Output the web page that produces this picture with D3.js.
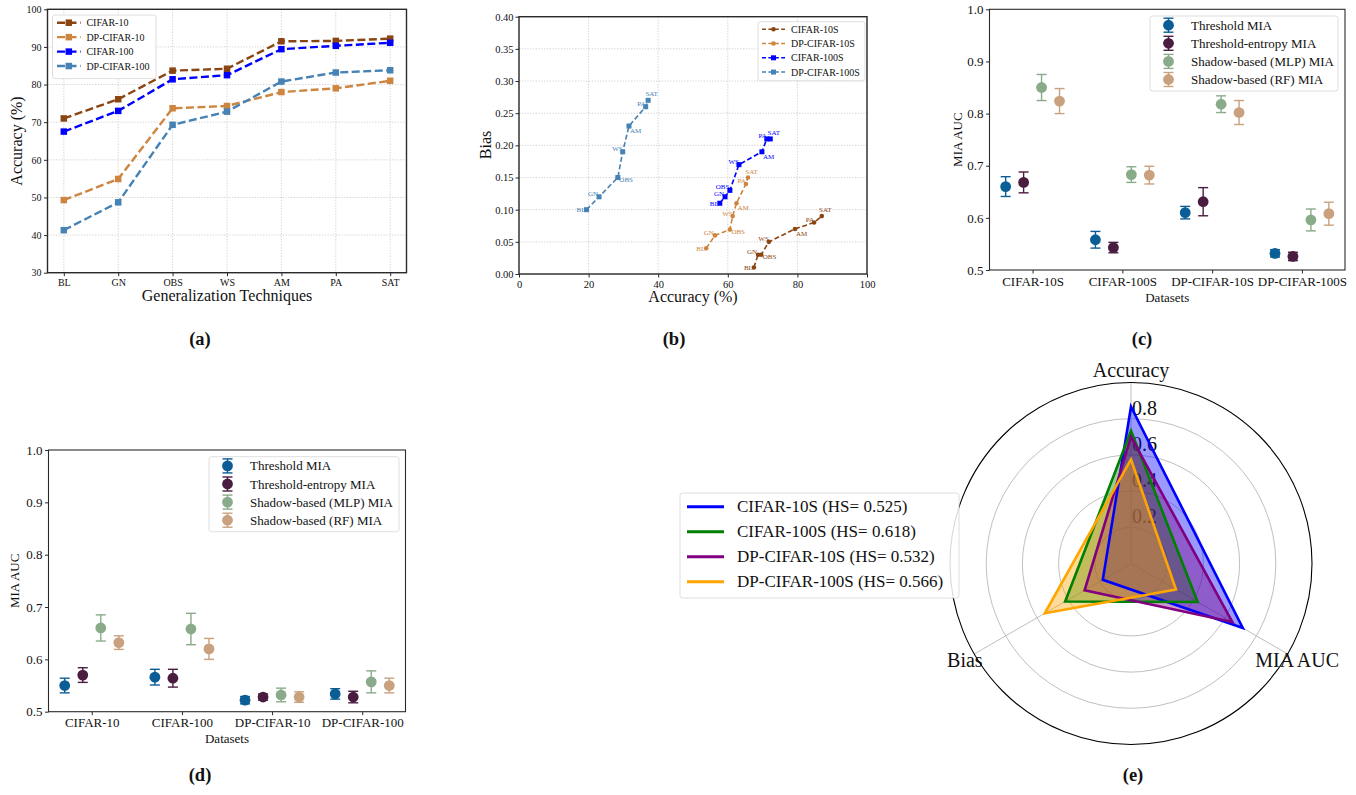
<!DOCTYPE html>
<html>
<head>
<meta charset="utf-8">
<script src="https://cdn.jsdelivr.net/npm/d3@7"></script>
<style>
  body { margin: 0; background: #fff; }
  svg { font-family: "Liberation Serif", "Times New Roman", serif; }
</style>
</head>
<body>
<svg id="fig" width="1356" height="795"></svg>
<script>
// ---- (a) accuracy per technique ----
var techniques = ["BL", "GN", "OBS", "WS", "AM", "PA", "SAT"];
var accTicks = [30, 40, 50, 60, 70, 80, 90, 100];
var accCifar10 = [71.0, 76.1, 83.7, 84.2, 91.5, 91.6, 92.2];
var accDpCifar10 = [49.3, 54.9, 73.7, 74.3, 78.0, 79.0, 81.0];
var accCifar100 = [67.5, 73.0, 81.4, 82.5, 89.4, 90.3, 91.1];
var accDpCifar100 = [41.3, 48.7, 69.3, 72.8, 80.8, 83.2, 83.8];

// ---- (b) accuracy vs bias ----
var scatterAccTicks = [0, 20, 40, 60, 80, 100];
var biasTicks = [0, 0.05, 0.10, 0.15, 0.20, 0.25, 0.30, 0.35, 0.40];
var sAcc10 = [67.5, 68.7, 69.6, 71.8, 79.3, 84.8, 87.0];
var sBias10 = [0.010, 0.030, 0.030, 0.050, 0.070, 0.080, 0.090];
var sAccDp10 = [53.8, 56.3, 60.6, 61.4, 62.5, 65.2, 65.8];
var sBiasDp10 = [0.040, 0.060, 0.069, 0.090, 0.110, 0.140, 0.150];
var sAcc100 = [57.7, 59.2, 60.6, 63.2, 69.8, 71.2, 72.2];
var sBias100 = [0.110, 0.120, 0.130, 0.170, 0.190, 0.210, 0.210];
var sAccDp100 = [19.4, 23.0, 28.4, 29.8, 31.6, 36.4, 37.1];
var sBiasDp100 = [0.100, 0.120, 0.150, 0.190, 0.230, 0.260, 0.270];

// ---- (c) / (d) MIA AUC ----
var attackNames = ["Threshold MIA", "Threshold-entropy MIA", "Shadow-based (MLP) MIA", "Shadow-based (RF) MIA"];
var aucTicks = [0.5, 0.6, 0.7, 0.8, 0.9, 1.0];
var datasetsS = ["CIFAR-10S", "CIFAR-100S", "DP-CIFAR-10S", "DP-CIFAR-100S"];
var cThr = [0.660, 0.558, 0.610, 0.532], cThrErr = [0.019, 0.016, 0.012, 0.007];
var cEnt = [0.668, 0.543, 0.631, 0.526], cEntErr = [0.020, 0.010, 0.027, 0.008];
var cMlp = [0.850, 0.683, 0.818, 0.596], cMlpErr = [0.025, 0.015, 0.016, 0.021];
var cRf = [0.824, 0.682, 0.802, 0.608], cRfErr = [0.024, 0.017, 0.023, 0.022];
var datasets = ["CIFAR-10", "CIFAR-100", "DP-CIFAR-10", "DP-CIFAR-100"];
var dThr = [0.550, 0.566, 0.522, 0.534], dThrErr = [0.014, 0.015, 0.007, 0.010];
var dEnt = [0.570, 0.564, 0.528, 0.528], dEntErr = [0.014, 0.017, 0.006, 0.011];
var dMlp = [0.660, 0.658, 0.532, 0.557], dMlpErr = [0.025, 0.030, 0.013, 0.021];
var dRf = [0.632, 0.620, 0.528, 0.550], dRfErr = [0.013, 0.020, 0.010, 0.014];

// ---- (e) radar ----
var radarAxes = ["Accuracy", "MIA AUC", "Bias"];
var radarTicks = [0.2, 0.4, 0.6, 0.8];
var radarLabels = ["CIFAR-10S (HS= 0.525)", "CIFAR-100S (HS= 0.618)", "DP-CIFAR-10S (HS= 0.532)", "DP-CIFAR-100S (HS= 0.566)"];
var radarCifar10 = [0.866, 0.713, 0.180];
var radarCifar100 = [0.733, 0.425, 0.420];
var radarDpCifar10 = [0.700, 0.646, 0.296];
var radarDpCifar100 = [0.575, 0.287, 0.550];

var SERIF = '"Liberation Serif", "Times New Roman", serif';
var svg = d3.select('#fig');
svg.append('rect').attr('width', 1356).attr('height', 795).attr('fill', '#fff');

// helpers
function frame(g, b, sw) {
  g.append('rect')
   .attr('x', b.left).attr('y', b.top)
   .attr('width', b.right - b.left).attr('height', b.bottom - b.top)
   .attr('fill', 'none').attr('stroke', '#2a2a2a').attr('stroke-width', sw);
}

function styleAxis(sel, size) {
  sel.attr('font-family', SERIF).attr('font-size', size);
  sel.select('.domain').remove();
  sel.selectAll('.tick line').attr('stroke', '#2a2a2a');
  sel.selectAll('.tick text').attr('fill', '#111');
}

function grid(g, b, xs, ys) {
  var gg = g.append('g').attr('stroke', '#c4c4c4').attr('stroke-width', 0.8).attr('stroke-dasharray', '1.2,1.6');
  xs.forEach(function(v) { gg.append('line').attr('x1', v).attr('x2', v).attr('y1', b.top).attr('y2', b.bottom); });
  ys.forEach(function(v) { gg.append('line').attr('y1', v).attr('y2', v).attr('x1', b.left).attr('x2', b.right); });
}

function legendBox(g, x, y, w, h) {
  g.append('rect').attr('x', x).attr('y', y).attr('width', w).attr('height', h)
   .attr('rx', 2.5).attr('fill', '#fff').attr('fill-opacity', 0.85)
   .attr('stroke', '#d6d6d6').attr('stroke-width', 0.8);
}

function marker(g, shape, cx, cy, size, color) {
  if (shape === 'square') {
    g.append('rect').attr('x', cx - size / 2).attr('y', cy - size / 2)
     .attr('width', size).attr('height', size).attr('fill', color);
  } else {
    g.append('circle').attr('cx', cx).attr('cy', cy).attr('r', size / 2).attr('fill', color);
  }
}

function panelLabel(text, x, y) {
  svg.append('text').attr('x', x).attr('y', y).attr('text-anchor', 'middle')
     .attr('font-size', 18.5).attr('font-weight', 'bold').attr('fill', '#111').text(text);
}

// ---------------- (a) ----------------
(function() {
  var b = {left: 47.5, right: 406.5, top: 9.3, bottom: 272.7};
  var x = d3.scaleLinear().domain([-0.3, techniques.length - 0.7]).range([b.left, b.right]);
  var y = d3.scaleLinear().domain([30, 100]).range([b.bottom, b.top]);
  var g = svg.append('g');

  grid(g, b, techniques.map(function(d, i) { return x(i); }), accTicks.map(y));

  var series = [
    {name: 'CIFAR-10', values: accCifar10, color: '#8B4513'},
    {name: 'DP-CIFAR-10', values: accDpCifar10, color: '#CD853F'},
    {name: 'CIFAR-100', values: accCifar100, color: '#0000FF'},
    {name: 'DP-CIFAR-100', values: accDpCifar100, color: '#4682B4'}
  ];
  var line = d3.line().x(function(d, i) { return x(i); }).y(function(d) { return y(d); });

  series.forEach(function(s) {
    g.append('path').attr('d', line(s.values)).attr('fill', 'none')
     .attr('stroke', s.color).attr('stroke-width', 2.4).attr('stroke-dasharray', '8,3.5');
    s.values.forEach(function(v, i) { marker(g, 'square', x(i), y(v), 6.5, s.color); });
  });

  frame(g, b, 1.4);

  var xa = g.append('g').attr('transform', 'translate(0,' + b.bottom + ')')
    .call(d3.axisBottom(x).tickValues(d3.range(techniques.length))
      .tickFormat(function(i) { return techniques[i]; }).tickSize(3.5).tickPadding(3));
  styleAxis(xa, 10);
  var ya = g.append('g').attr('transform', 'translate(' + b.left + ',0)')
    .call(d3.axisLeft(y).tickValues(accTicks).tickSize(3.5).tickPadding(2.5));
  styleAxis(ya, 10);

  g.append('text').attr('x', (b.left + b.right) / 2).attr('y', 301).attr('text-anchor', 'middle')
   .attr('font-size', 16).attr('fill', '#111').text('Generalization Techniques');
  g.append('text').attr('transform', 'translate(16,141) rotate(-90)').attr('text-anchor', 'middle')
   .attr('dominant-baseline', 'central').attr('font-size', 16).attr('fill', '#111').text('Accuracy (%)');

  legendBox(g, 52.5, 15, 103.5, 63.6);
  series.forEach(function(s, i) {
    var ly = 22.7 + i * 14.45;
    g.append('line').attr('x1', 57).attr('x2', 80.6).attr('y1', ly).attr('y2', ly)
     .attr('stroke', s.color).attr('stroke-width', 2.4).attr('stroke-dasharray', '8,3.5');
    marker(g, 'square', 68.8, ly, 6.5, s.color);
    g.append('text').attr('x', 86.4).attr('y', ly).attr('dominant-baseline', 'central')
     .attr('font-size', 10).attr('fill', '#111').text(s.name);
  });
})();

// ---------------- (b) ----------------
(function() {
  var b = {left: 519, right: 867, top: 16.7, bottom: 274};
  var x = d3.scaleLinear().domain([0, 100]).range([b.left, b.right]);
  var y = d3.scaleLinear().domain([0, 0.40]).range([b.bottom, b.top]);
  var g = svg.append('g');

  grid(g, b, scatterAccTicks.map(x), biasTicks.map(y));

  var series = [
    {name: 'CIFAR-10S', acc: sAcc10, bias: sBias10, color: '#8B4513', shape: 'circle'},
    {name: 'DP-CIFAR-10S', acc: sAccDp10, bias: sBiasDp10, color: '#CD853F', shape: 'circle'},
    {name: 'CIFAR-100S', acc: sAcc100, bias: sBias100, color: '#0000FF', shape: 'square'},
    {name: 'DP-CIFAR-100S', acc: sAccDp100, bias: sBiasDp100, color: '#4682B4', shape: 'square'}
  ];
  // label placement around each point, by technique
  var place = {
    BL: {anchor: 'end', dx: -1, dy: 0.5},
    GN: {anchor: 'end', dx: -1, dy: -2.5},
    OBS: {anchor: 'start', dx: 1.5, dy: 2.5},
    WS: {anchor: 'end', dx: 0, dy: -2.5},
    AM: {anchor: 'start', dx: 1, dy: 5},
    PA: {anchor: 'end', dx: 0, dy: -2.5},
    SAT: {anchor: 'middle', dx: 3.5, dy: -6}
  };
  var placeBlueObs = {anchor: 'end', dx: -0.5, dy: -3.5};

  series.forEach(function(s) {
    var pts = s.acc.map(function(a, i) { return [x(a), y(s.bias[i])]; });
    g.append('path').attr('d', d3.line()(pts)).attr('fill', 'none')
     .attr('stroke', s.color).attr('stroke-width', 1.6).attr('stroke-dasharray', '5,2.6');
    pts.forEach(function(p, i) {
      marker(g, s.shape, p[0], p[1], s.shape === 'square' ? 5 : 4.6, s.color);
      var t = techniques[i];
      var pl = (s.name === 'CIFAR-100S' && t === 'OBS') ? placeBlueObs : place[t];
      g.append('text').attr('x', p[0] + pl.dx).attr('y', p[1] + pl.dy)
       .attr('text-anchor', pl.anchor).attr('dominant-baseline', 'central')
       .attr('font-size', 7).attr('fill', s.color).text(t);
    });
  });

  frame(g, b, 1.4);

  var xa = g.append('g').attr('transform', 'translate(0,' + b.bottom + ')')
    .call(d3.axisBottom(x).tickValues(scatterAccTicks).tickSize(3.5).tickPadding(3));
  styleAxis(xa, 10.5);
  var ya = g.append('g').attr('transform', 'translate(' + b.left + ',0)')
    .call(d3.axisLeft(y).tickValues(biasTicks).tickFormat(d3.format('.2f')).tickSize(3.5).tickPadding(2));
  styleAxis(ya, 10.5);

  g.append('text').attr('x', (b.left + b.right) / 2).attr('y', 302).attr('text-anchor', 'middle')
   .attr('font-size', 16).attr('fill', '#111').text('Accuracy (%)');
  g.append('text').attr('transform', 'translate(485,145) rotate(-90)').attr('text-anchor', 'middle')
   .attr('dominant-baseline', 'central').attr('font-size', 16).attr('fill', '#111').text('Bias');

  legendBox(g, 758, 21.7, 107, 59);
  series.forEach(function(s, i) {
    var ly = 29.3 + i * 14.25;
    g.append('line').attr('x1', 762).attr('x2', 785).attr('y1', ly).attr('y2', ly)
     .attr('stroke', s.color).attr('stroke-width', 1.6).attr('stroke-dasharray', '4,2.4');
    marker(g, s.shape, 773.5, ly, s.shape === 'square' ? 5 : 4.6, s.color);
    g.append('text').attr('x', 791).attr('y', ly).attr('dominant-baseline', 'central')
     .attr('font-size', 10).attr('fill', '#111').text(s.name);
  });
})();

// ---------------- (c) and (d) ----------------
var attackColors = ['#0b5d96', '#4a1c40', '#8aab8a', '#c9a17f'];
var attackOffsets = [-0.3, -0.1, 0.1, 0.3];

function aucPanel(b, cats, vals, errs, leg, xLabelY, yLabelX) {
  var x = d3.scaleLinear().domain([-0.48, cats.length - 1 + 0.48]).range([b.left, b.right]);
  var y = d3.scaleLinear().domain([0.5, 1.0]).range([b.bottom, b.top]);
  var g = svg.append('g');

  vals.forEach(function(arr, k) {
    var col = attackColors[k];
    arr.forEach(function(v, i) {
      var cx = x(i + attackOffsets[k]);
      var e = errs[k][i];
      g.append('line').attr('x1', cx).attr('x2', cx).attr('y1', y(v - e)).attr('y2', y(v + e))
       .attr('stroke', col).attr('stroke-width', 1.4);
      [v - e, v + e].forEach(function(c) {
        g.append('line').attr('x1', cx - 5).attr('x2', cx + 5).attr('y1', y(c)).attr('y2', y(c))
         .attr('stroke', col).attr('stroke-width', 1.4);
      });
      g.append('circle').attr('cx', cx).attr('cy', y(v)).attr('r', 5.4).attr('fill', col);
    });
  });

  frame(g, b, 1.1);

  var xa = g.append('g').attr('transform', 'translate(0,' + b.bottom + ')')
    .call(d3.axisBottom(x).tickValues(d3.range(cats.length))
      .tickFormat(function(i) { return cats[i]; }).tickSize(3.5).tickPadding(3));
  styleAxis(xa, 13);
  var ya = g.append('g').attr('transform', 'translate(' + b.left + ',0)')
    .call(d3.axisLeft(y).tickValues(aucTicks).tickFormat(d3.format('.1f')).tickSize(3.5).tickPadding(2.5));
  styleAxis(ya, 13);

  g.append('text').attr('x', (b.left + b.right) / 2).attr('y', xLabelY).attr('text-anchor', 'middle')
   .attr('font-size', 13).attr('fill', '#111').text('Datasets');
  g.append('text').attr('transform', 'translate(' + yLabelX + ',' + ((b.top + b.bottom) / 2) + ') rotate(-90)')
   .attr('text-anchor', 'middle').attr('dominant-baseline', 'central')
   .attr('font-size', 13).attr('fill', '#111').text('MIA AUC');

  legendBox(g, leg.x, leg.y, leg.w, leg.h);
  attackNames.forEach(function(name, k) {
    var ly = leg.y + 9.2 + k * 18.1;
    var mx = leg.x + 18.5;
    var col = attackColors[k];
    g.append('line').attr('x1', mx).attr('x2', mx).attr('y1', ly - 7).attr('y2', ly + 7)
     .attr('stroke', col).attr('stroke-width', 1.4);
    [ly - 7, ly + 7].forEach(function(c) {
      g.append('line').attr('x1', mx - 5).attr('x2', mx + 5).attr('y1', c).attr('y2', c)
       .attr('stroke', col).attr('stroke-width', 1.4);
    });
    g.append('circle').attr('cx', mx).attr('cy', ly).attr('r', 5.4).attr('fill', col);
    g.append('text').attr('x', leg.x + 41).attr('y', ly).attr('dominant-baseline', 'central')
     .attr('font-size', 13).attr('fill', '#111').text(name);
  });
}

aucPanel({left: 989.5, right: 1345, top: 9.3, bottom: 270}, datasetsS,
  [cThr, cEnt, cMlp, cRf], [cThrErr, cEntErr, cMlpErr, cRfErr],
  {x: 1150, y: 16, w: 188, h: 75}, 302, 957);

aucPanel({left: 48.5, right: 405.5, top: 450, bottom: 711.7}, datasets,
  [dThr, dEnt, dMlp, dRf], [dThrErr, dEntErr, dMlpErr, dRfErr],
  {x: 209, y: 456.7, w: 190, h: 75}, 743, 14);

// ---------------- (e) radar ----------------
(function() {
  var cx = 1131, cy = 563.5;
  var r = d3.scaleLinear().domain([0, 1]).range([0, 181]);
  var g = svg.append('g').attr('transform', 'translate(' + cx + ',' + cy + ')');
  var step = 2 * Math.PI / radarAxes.length;

  radarTicks.forEach(function(t) {
    g.append('circle').attr('r', r(t)).attr('fill', 'none').attr('stroke', '#b8b8b8').attr('stroke-width', 0.9);
  });
  radarAxes.forEach(function(a, i) {
    var ang = i * step;
    g.append('line').attr('x1', 0).attr('y1', 0)
     .attr('x2', r(1) * Math.sin(ang)).attr('y2', -r(1) * Math.cos(ang))
     .attr('stroke', '#b8b8b8').attr('stroke-width', 0.9);
    g.append('text').attr('x', r(1.06) * Math.sin(ang)).attr('y', -r(1.07) * Math.cos(ang))
     .attr('text-anchor', 'middle').attr('dominant-baseline', 'central')
     .attr('font-size', 20).attr('fill', '#111').text(a);
  });
  radarTicks.forEach(function(t) {
    g.append('text').attr('x', 1).attr('y', -r(t) - 4)
     .attr('font-size', 20).attr('fill', '#111').text(t.toFixed(1));
  });
  g.append('circle').attr('r', r(1)).attr('fill', 'none').attr('stroke', '#000').attr('stroke-width', 1.1);

  var series = [
    {name: radarLabels[0], values: radarCifar10, color: '#0000FF'},
    {name: radarLabels[1], values: radarCifar100, color: '#008000'},
    {name: radarLabels[2], values: radarDpCifar10, color: '#800080'},
    {name: radarLabels[3], values: radarDpCifar100, color: '#FFA500'}
  ];
  var radial = d3.lineRadial()
    .angle(function(d, i) { return i * step; })
    .radius(function(d) { return r(d); })
    .curve(d3.curveLinearClosed);

  series.forEach(function(s) {
    g.append('path').attr('d', radial(s.values)).attr('fill', s.color).attr('fill-opacity', 0.4)
     .attr('stroke', 'none');
  });
  series.forEach(function(s) {
    g.append('path').attr('d', radial(s.values)).attr('fill', 'none')
     .attr('stroke', s.color).attr('stroke-width', 2.6).attr('stroke-linejoin', 'miter');
  });

  legendBox(svg, 680, 493, 279, 105);
  series.forEach(function(s, i) {
    var ly = 506.7 + i * 25;
    svg.append('line').attr('x1', 687).attr('x2', 724).attr('y1', ly).attr('y2', ly)
       .attr('stroke', s.color).attr('stroke-width', 3);
    svg.append('text').attr('x', 737).attr('y', ly).attr('dominant-baseline', 'central')
       .attr('font-size', 17).attr('fill', '#111').text(s.name);
  });
})();

panelLabel('(a)', 200, 345);
panelLabel('(b)', 674, 345);
panelLabel('(c)', 1142, 345);
panelLabel('(d)', 200, 781);
panelLabel('(e)', 1133, 781);
</script>
</body>
</html>
